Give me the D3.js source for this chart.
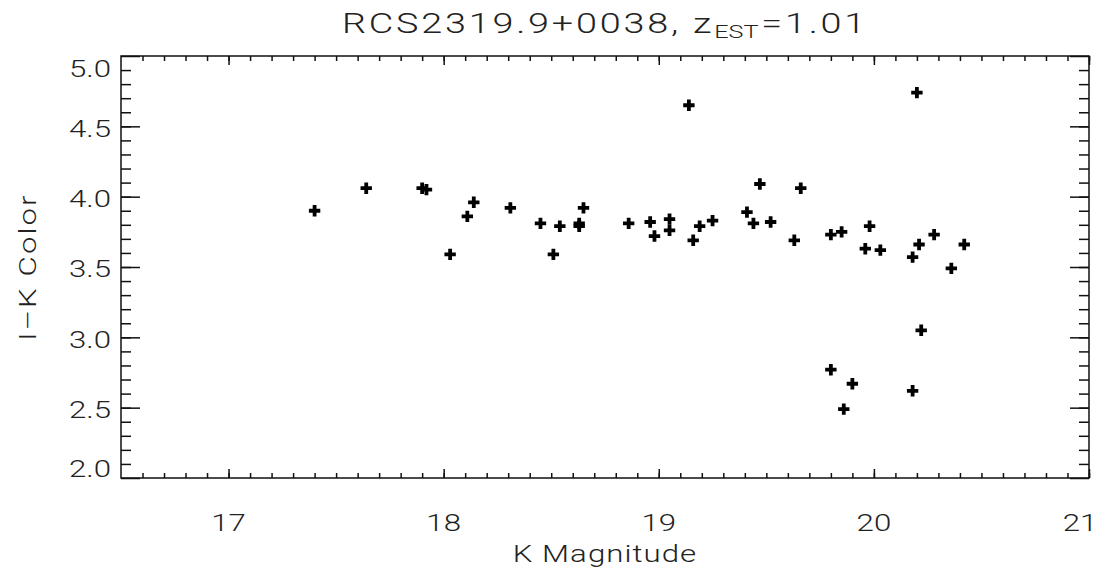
<!DOCTYPE html>
<html lang="en">
<head>
    <meta charset="UTF-8">
    <title>RCS2319.9+0038 colour-magnitude</title>
    <script src="https://d3js.org/d3.v7.min.js"></script>
    <style>
        body { margin: 0; background: white; }
        svg text { font-family: Roboto, "DejaVu Sans", sans-serif; font-weight: 300; fill: #222; }
    </style>
</head>
<body>
    <svg id="chart" width="1104" height="571"></svg>

    <script>
        // K magnitude and I-K colour of each galaxy
        const kMag = [17.40, 17.64, 17.90, 17.92, 18.03, 18.11, 18.14, 18.31, 18.45, 18.51,
                      18.54, 18.63, 18.63, 18.65, 18.86, 18.96, 18.98, 19.05, 19.05, 19.14,
                      19.16, 19.19, 19.25, 19.41, 19.44, 19.47, 19.52, 19.63, 19.66, 19.80,
                      19.85, 19.80, 19.86, 19.90, 19.96, 19.98, 20.03, 20.18, 20.18, 20.20,
                      20.21, 20.22, 20.28, 20.36, 20.42];
        const ikColor = [3.90, 4.06, 4.06, 4.05, 3.59, 3.86, 3.96, 3.92, 3.81, 3.59,
                         3.79, 3.81, 3.79, 3.92, 3.81, 3.82, 3.72, 3.84, 3.76, 4.65,
                         3.69, 3.79, 3.83, 3.89, 3.81, 4.09, 3.82, 3.69, 4.06, 3.73,
                         3.75, 2.77, 2.49, 2.67, 3.63, 3.79, 3.62, 3.57, 2.62, 4.74,
                         3.66, 3.05, 3.73, 3.49, 3.66];
        const xTicks = [17, 18, 19, 20, 21];
        const yTicks = [2.0, 2.5, 3.0, 3.5, 4.0, 4.5, 5.0];

        const svg = d3.select('#chart');
        const margin = {top: 56, right: 15, bottom: 93, left: 121};
        const width = 1104 - margin.left - margin.right;
        const height = 571 - margin.top - margin.bottom;

        const x = d3.scaleLinear().domain([16.5, 21]).range([0, width]);
        const y = d3.scaleLinear().domain([2, 5]).range([height, 0]);

        const g = svg.append('g')
            .attr('transform', `translate(${margin.left},${margin.top})`);

        // minor ticks every 0.1
        const xMinor = d3.range(166, 211).map(d => d / 10);
        const yMinor = d3.range(21, 50).map(d => d / 10);

        function styleAxis(sel) {
            sel.select('.domain').remove();
            sel.selectAll('text').remove();
            sel.selectAll('line').attr('stroke', '#111').attr('stroke-width', 1.5);
        }

        // ticks point inward on all four sides
        g.append('g').attr('transform', `translate(0,${height})`)
            .call(d3.axisBottom(x).tickValues(xMinor).tickSize(-5)).call(styleAxis);
        g.append('g').attr('transform', `translate(0,${height})`)
            .call(d3.axisBottom(x).tickValues(xTicks).tickSize(-9)).call(styleAxis);
        g.append('g')
            .call(d3.axisTop(x).tickValues(xMinor).tickSize(-5)).call(styleAxis);
        g.append('g')
            .call(d3.axisTop(x).tickValues(xTicks).tickSize(-9)).call(styleAxis);
        g.append('g')
            .call(d3.axisLeft(y).tickValues(yMinor).tickSize(-10)).call(styleAxis);
        g.append('g')
            .call(d3.axisLeft(y).tickValues(yTicks).tickSize(-19)).call(styleAxis);
        g.append('g').attr('transform', `translate(${width},0)`)
            .call(d3.axisRight(y).tickValues(yMinor).tickSize(-10)).call(styleAxis);
        g.append('g').attr('transform', `translate(${width},0)`)
            .call(d3.axisRight(y).tickValues(yTicks).tickSize(-19)).call(styleAxis);

        g.append('rect')
            .attr('width', width)
            .attr('height', height)
            .attr('fill', 'none')
            .attr('stroke', '#111')
            .attr('stroke-width', 1.5);

        // the plotting font is a wide stroke font, so text is stretched sideways
        const stretch = 1.3;
        function wideText(parent, px, py, txt, opts) {
            const s = opts.stretch || stretch;
            const grp = parent.append('g')
                .attr('transform', `translate(${px},${py}) ${opts.rotate ? 'rotate(-90)' : ''} scale(${s},1)`);
            const t = grp.append('text')
                .attr('text-anchor', opts.anchor || 'middle')
                .attr('font-size', opts.size || 24)
                .attr('dy', opts.dy || 0)
                .style('letter-spacing', (opts.ls || 0) + 'px');
            if (txt !== null) t.text(txt);
            return t;
        }

        // tick labels (last one pulled in so it stays on the page)
        xTicks.forEach(d => {
            wideText(g, Math.min(x(d), width - 9), height + 53, d, {});
        });
        yTicks.forEach(d => {
            wideText(g, -10, Math.min(Math.max(y(d) + 2, 13), height - 9), d.toFixed(1),
                     {anchor: 'end', dy: '0.35em'});
        });

        // axis titles
        wideText(g, width / 2, height + 84, 'K Magnitude', {ls: 0.8});
        wideText(g, -85, height / 2, 'I\u2013K Color', {rotate: true, ls: 1.6});

        // title with subscript
        const title = wideText(svg, margin.left + width / 2, 33, null, {size: 27, ls: 2, stretch: 1.4});
        title.append('tspan').text('RCS2319.9+0038, z');
        title.append('tspan').attr('dy', 5).attr('font-size', 18).style('letter-spacing', '0px').text('EST');
        title.append('tspan').attr('dy', -5).attr('dx', 2).text('=1.01');

        // data points
        const points = kMag.map((k, i) => ({k: k, c: ikColor[i]}));
        g.selectAll('.pt').data(points).enter().append('path')
            .attr('class', 'pt')
            .attr('transform', d => `translate(${x(d.k)},${y(d.c)})`)
            .attr('d', d3.symbol(d3.symbolCross, 72))
            .attr('fill', '#000');
    </script>
</body>
</html>
